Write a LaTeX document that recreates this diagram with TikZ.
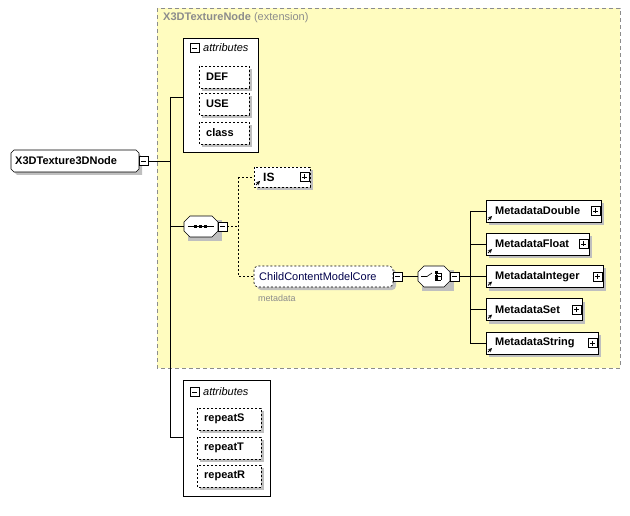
\documentclass[tikz,border=0pt]{standalone}
\usepackage{fontspec}
\setmainfont{Liberation Sans}
\begin{document}
\begin{tikzpicture}[x=1pt,y=-1pt,
  el/.style={draw=black,fill=white,line width=0.6pt},
  sh/.style={fill=black!25},
  lbl/.style={font=\bfseries\fontsize{11}{12}\selectfont,anchor=west,inner sep=0},
  pm/.style={draw=black,fill=white,line width=0.5pt},
  ln/.style={line width=0.6pt},
  dl/.style={line width=0.6pt,dash pattern=on 2pt off 2pt}]
\useasboundingbox (0,0) rectangle (630,516);
% extension box
\draw[fill=yellow!25!white,draw=black!45,dash pattern=on 4pt off 3pt,line width=0.7pt] (157,8) rectangle (620,368);
\node[font=\bfseries\fontsize{11}{12}\selectfont,text=black!45,anchor=west,inner sep=0] (ttl) at (163,18) {X3DTextureNode \mdseries(extension)};
% macros
\newcommand{\plusbox}[2]{\draw[pm] (#1,#2-4.5) rectangle (#1+9,#2+4.5); \draw (#1+2,#2)--(#1+7,#2); \draw (#1+4.5,#2-2.5)--(#1+4.5,#2+2.5);}
\newcommand{\minusbox}[2]{\draw[pm] (#1,#2-4.5) rectangle (#1+9,#2+4.5); \draw (#1+2,#2)--(#1+7,#2);}
\newcommand{\attbox}[5]{\fill[sh] (#1+3,#2+3) rectangle (#3+3,#4+3); \draw[el,dl] (#1,#2) rectangle (#3,#4); \node[lbl] at (#1+7,{(#2+#4)/2}) {#5};}
% trunk
\draw[ln] (148,161)--(170,161);
\draw[ln] (170,97)--(170,437);
\draw[ln] (170,97)--(183,97);
\draw[ln] (170,226)--(184,226);
\draw[ln] (170,437)--(183,437);
% top attributes
\draw[el] (183,38) rectangle (258,152);
\minusbox{190}{48}
\node[font=\itshape\fontsize{11}{12}\selectfont,anchor=west,inner sep=0] (a1) at (203,48) {attributes};
\attbox{199}{66}{249}{88}{DEF}
\attbox{199}{93}{249}{115}{USE}
\attbox{199}{122}{249}{144}{class}
% bottom attributes
\draw[el] (183,380) rectangle (270,496);
\minusbox{190}{392}
\node[font=\itshape\fontsize{11}{12}\selectfont,anchor=west,inner sep=0] (a2) at (203,392) {attributes};
\attbox{197}{408}{261}{430}{repeatS}
\attbox{197}{437}{261}{459}{repeatT}
\attbox{197}{465}{261}{487}{repeatR}
% root
\fill[sh] (14,154)--(139,154)--(142,157)--(142,175)--(17,175)--(14,172)--cycle;
\draw[el] (14,150)--(136,150)--(139,153)--(139,169)--(136,172)--(14,172)--(11,169)--(11,153)--cycle;
\node[lbl] (root) at (15,161) {X3DTexture3DNode};
\minusbox{139}{161}
% sequence
\fill[sh] (188,220) rectangle (222,241);
\draw[el] (190,216)--(212,216)--(218,222)--(218,231)--(212,237)--(190,237)--(184,231)--(184,222)--cycle;
\draw[ln] (188,226.5)--(214,226.5);
\foreach \x in {195,200,205} \fill (\x-1.5,225) rectangle (\x+1.5,228);
\minusbox{218}{226.5}
\draw[dl] (227,226.5)--(238,226.5);
\draw[dl] (238,177)--(238,276)--(254,276);
\draw[dl] (238,177)--(254,177);
% IS
\fill[sh] (257,170) rectangle (313,190);
\draw[el,dl] (254,167) rectangle (310,187);
\node[lbl,font=\bfseries\fontsize{12}{12}\selectfont] (is) at (263,177) {IS};
\draw[-stealth,line width=0.8pt] (256,185)--(260,181);
\plusbox{300}{177}
% CCMC
\fill[sh,rounded corners=4pt] (257,269) rectangle (396,290);
\draw[el,dl,rounded corners=4pt] (254,266) rectangle (393,287);
\node[font=\fontsize{11}{12}\selectfont,anchor=west,inner sep=0,text=blue!30!black] (cc) at (259,276.5) {ChildContentModelCore};
\minusbox{393}{276.5}
\node[font=\fontsize{9}{10}\selectfont,text=black!45,anchor=west,inner sep=0] (md) at (258,298) {metadata};
\draw[ln] (402,276.5)--(418,276.5);
% choice
\fill[sh] (422,270) rectangle (454,291);
\draw[el] (424,266)--(444,266)--(450,272)--(450,281)--(444,287)--(424,287)--(418,281)--(418,272)--cycle;
\draw[ln] (421,276.5)--(427,276.5)--(432,273);
\draw[ln] (436,273)--(436,280); \fill (434.5,271.5) rectangle (437.5,274.5); \fill (434.5,275) rectangle (437.5,278); \fill (434.5,278.5) rectangle (437.5,281.5);
\draw[ln] (437,276.5)--(441,276.5); \draw[ln] (441,273)--(441,280); \draw[ln](436,273)--(441,273);\draw[ln](436,280)--(441,280);
\minusbox{450}{276.5}
\draw[ln] (459,276.5)--(470,276.5);
\draw[ln] (470,211)--(470,343);
% metadata elements
\foreach \y/\r/\t in {211/601/MetadataDouble,244/589/MetadataFloat,276.5/603/MetadataInteger,309.5/582/MetadataSet,343/598/MetadataString}{
  \draw[ln] (470,\y)--(486,\y);
  \fill[sh] (489,\y-8) rectangle (\r+3,\y+14);
  \draw[el] (486,\y-11) rectangle (\r,\y+11);
  \node[lbl] at (495,\y) {\t};
  \draw[-stealth,line width=0.8pt] (488,\y+9)--(492,\y+5);
  \plusbox{\r-10}{\y}
}
\end{tikzpicture}
\end{document}
